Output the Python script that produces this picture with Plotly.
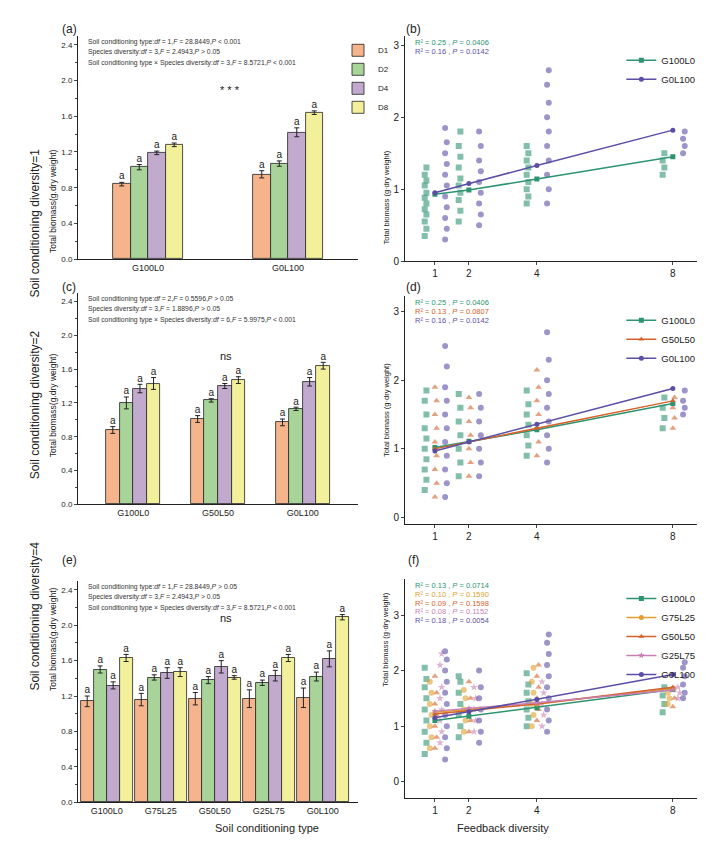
import plotly.graph_objects as go

W, H = 705, 845
FONT = "Liberation Sans"

# ---------------- bar data ----------------
div_levels = ["D1", "D2", "D4", "D8"]
bar_colors = ["#F5B48C", "#A8D49A", "#C2AACF", "#F3F09C"]

a_cats = ["G100L0", "G0L100"]
a_means = [[0.84, 0.95], [1.03, 1.07], [1.19, 1.42], [1.28, 1.64]]
a_errs = [[0.02, 0.04], [0.03, 0.03], [0.02, 0.05], [0.02, 0.02]]

c_cats = ["G100L0", "G50L50", "G0L100"]
c_means = [[0.88, 1.01, 0.97], [1.20, 1.23, 1.13], [1.37, 1.40, 1.45], [1.43, 1.47, 1.64]]
c_errs = [[0.04, 0.04, 0.04], [0.07, 0.02, 0.02], [0.05, 0.03, 0.05], [0.07, 0.04, 0.04]]

e_cats = ["G100L0", "G75L25", "G50L50", "G25L75", "G0L100"]
e_means = [[1.14, 1.16, 1.17, 1.17, 1.18], [1.50, 1.41, 1.38, 1.35, 1.42],
           [1.32, 1.46, 1.53, 1.43, 1.62], [1.63, 1.47, 1.41, 1.63, 2.09]]
e_errs = [[0.06, 0.07, 0.07, 0.10, 0.11], [0.04, 0.03, 0.04, 0.03, 0.05],
          [0.04, 0.06, 0.07, 0.06, 0.09], [0.04, 0.05, 0.02, 0.04, 0.03]]

a_stats = ["Soil conditioning type:<i>df</i> = 1,<i>F</i> = 28.8449,<i>P</i> < 0.001",
           "Species diversity:<i>df</i> = 3,<i>F</i> = 2.4943,<i>P</i> > 0.05",
           "Soil conditioning type × Species diversity:<i>df</i> = 3,<i>F</i> = 8.5721,<i>P</i> < 0.001"]
c_stats = ["Soil conditioning type:<i>df</i> = 2,<i>F</i> = 0.5596,<i>P</i> > 0.05",
           "Species diversity:<i>df</i> = 3,<i>F</i> = 1.8896,<i>P</i> > 0.05",
           "Soil conditioning type × Species diversity:<i>df</i> = 6,<i>F</i> = 5.9975,<i>P</i> < 0.001"]
e_stats = ["Soil conditioning type:<i>df</i> = 1,<i>F</i> = 28.8449,<i>P</i> > 0.05",
           "Species diversity:<i>df</i> = 3,<i>F</i> = 2.4943,<i>P</i> > 0.05",
           "Soil conditioning type × Species diversity:<i>df</i> = 3,<i>F</i> = 8.5721,<i>P</i> < 0.001"]

# ---------------- scatter data ----------------
fb_levels = [1, 2, 4, 8]
ser_colors = {"G100L0": "#2E9470", "G75L25": "#E0A030", "G50L50": "#D4622A",
              "G25L75": "#C77FB5", "G0L100": "#5B4EA6"}
ser_symbols = {"G100L0": "square", "G75L25": "circle", "G50L50": "triangle-up",
               "G25L75": "star", "G0L100": "circle"}

b_pts = {
    "G100L0": [[0.35, 0.45, 0.55, 0.65, 0.72, 0.8, 0.88, 0.95, 1.05, 1.12, 1.2, 1.3],
               [0.55, 0.7, 0.85, 0.95, 1.05, 1.15, 1.3, 1.45, 1.6, 1.8],
               [0.8, 0.9, 1.0, 1.1, 1.2, 1.3, 1.4, 1.5, 1.6],
               [1.2, 1.3, 1.4, 1.5]],
    "G0L100": [[0.3, 0.45, 0.6, 0.75, 0.9, 1.05, 1.2, 1.35, 1.5, 1.65, 1.85],
               [0.5, 0.65, 0.8, 0.95, 1.1, 1.25, 1.4, 1.6, 1.8],
               [0.8, 1.0, 1.2, 1.4, 1.6, 1.8, 2.0, 2.2, 2.45, 2.65],
               [1.5, 1.6, 1.7, 1.8]],
}
b_fit = {"G100L0": [0.93, 0.99, 1.14, 1.45], "G0L100": [0.95, 1.08, 1.33, 1.82]}
b_text = ["R² = 0.25 , <i>P</i> = 0.0406", "R² = 0.16 , <i>P</i> = 0.0142"]

d_pts = {
    "G100L0": [[0.4, 0.55, 0.7, 0.85, 1.0, 1.15, 1.3, 1.5, 1.7, 1.85],
               [0.6, 0.8, 1.0, 1.2, 1.4, 1.6, 1.8],
               [0.9, 1.05, 1.2, 1.35, 1.5, 1.65, 1.85],
               [1.3, 1.45, 1.6, 1.75]],
    "G50L50": [[0.3, 0.5, 0.7, 0.9, 1.1, 1.3, 1.5, 1.7, 1.9],
               [0.6, 0.8, 1.0, 1.2, 1.4, 1.6, 1.75],
               [0.9, 1.1, 1.3, 1.5, 1.7, 1.9, 2.15],
               [1.3, 1.45, 1.6, 1.75]],
    "G0L100": [[0.3, 0.5, 0.7, 0.9, 1.1, 1.3, 1.5, 1.7, 1.9, 2.2, 2.5],
               [0.6, 0.8, 1.0, 1.2, 1.4, 1.6, 1.8],
               [0.8, 1.0, 1.2, 1.4, 1.6, 1.8, 2.0, 2.3, 2.7],
               [1.5, 1.6, 1.7, 1.85]],
}
d_fit = {"G100L0": [1.02, 1.11, 1.28, 1.66], "G50L50": [1.0, 1.1, 1.3, 1.7],
         "G0L100": [0.97, 1.1, 1.36, 1.88]}
d_text = ["R² = 0.25 , <i>P</i> = 0.0406", "R² = 0.13 , <i>P</i> = 0.0807", "R² = 0.16 , <i>P</i> = 0.0142"]

f_pts = {
    "G100L0": [[0.5, 0.7, 0.9, 1.1, 1.3, 1.5, 1.7, 1.85, 2.05],
               [0.8, 1.0, 1.2, 1.4, 1.6, 1.8, 1.9],
               [1.0, 1.15, 1.3, 1.45, 1.6, 1.75, 1.95],
               [1.25, 1.4, 1.55, 1.7]],
    "G75L25": [[0.6, 0.8, 1.0, 1.2, 1.4, 1.6, 1.8],
               [0.9, 1.1, 1.3, 1.5, 1.65],
               [1.0, 1.2, 1.4, 1.6, 1.8, 2.05],
               [1.4, 1.5, 1.6]],
    "G50L50": [[0.6, 0.8, 1.0, 1.2, 1.4, 1.6, 1.9],
               [0.9, 1.1, 1.3, 1.5, 1.8],
               [1.1, 1.3, 1.5, 1.7, 1.9, 2.1],
               [1.35, 1.5, 1.65]],
    "G25L75": [[0.7, 0.9, 1.1, 1.3, 1.5, 1.7, 2.1, 2.3],
               [0.9, 1.1, 1.3, 1.5, 1.7],
               [1.0, 1.2, 1.4, 1.6, 1.8],
               [1.5, 1.6, 1.7]],
    "G0L100": [[0.4, 0.6, 0.8, 1.0, 1.2, 1.4, 1.6, 1.8, 2.0, 2.2, 2.35],
               [0.7, 0.9, 1.1, 1.3, 1.5, 1.7, 2.0],
               [0.9, 1.1, 1.3, 1.5, 1.7, 1.9, 2.1, 2.3, 2.5, 2.65],
               [1.5, 1.6, 1.75, 1.9, 2.05, 2.15]],
}
f_fit = {"G100L0": [1.1, 1.18, 1.33, 1.66], "G75L25": [1.25, 1.3, 1.4, 1.68],
         "G50L50": [1.22, 1.28, 1.4, 1.70], "G25L75": [1.27, 1.32, 1.42, 1.65],
         "G0L100": [1.15, 1.26, 1.48, 1.93]}
f_text = ["R² = 0.13 , <i>P</i> = 0.0714", "R² = 0.10 , <i>P</i> = 0.1590", "R² = 0.09 , <i>P</i> = 0.1598",
          "R² = 0.08 , <i>P</i> = 0.1152", "R² = 0.18 , <i>P</i> = 0.0054"]

# ---------------- figure ----------------
fig = go.Figure()
annots = []


def dom_x(p0, p1):
    return [p0 / W, p1 / W]


def dom_y(pbot, ptop):
    return [1 - pbot / H, 1 - ptop / H]


def bar_panel(n, cats, means, errs, bw, offs, xr, xd, yd, stats, sig, sigy, legend):
    xa, ya = f"x{n}", f"y{n}"
    for k, lev in enumerate(div_levels):
        xs = [i + offs[k] for i in range(len(cats))]
        fig.add_trace(go.Bar(x=xs, y=means[k], width=bw, marker_color=bar_colors[k],
                             marker_line=dict(color="#222", width=0.8), name=lev,
                             error_y=dict(type="data", array=errs[k], color="#222", thickness=1, width=2.5),
                             xaxis=xa, yaxis=ya, showlegend=legend, legend="legend"))
        fig.add_trace(go.Scatter(x=xs, y=[m + e + 0.06 for m, e in zip(means[k], errs[k])],
                                 text=["a"] * len(cats), mode="text", textfont=dict(size=10, color="#222"),
                                 xaxis=xa, yaxis=ya, showlegend=False, hoverinfo="skip"))
    sfx = "" if n == 1 else str(n)
    fig.layout[f"xaxis{sfx}"] = dict(domain=xd, range=xr, anchor=ya, tickvals=list(range(len(cats))),
                                     ticktext=cats, showline=True, linecolor="#222", ticks="",
                                     tickfont=dict(size=9), showgrid=False, zeroline=False)
    fig.layout[f"yaxis{sfx}"] = dict(domain=yd, range=[0, 2.5], anchor=xa, tickvals=[0, 0.4, 0.8, 1.2, 1.6, 2.0, 2.4],
                                     tickformat=".1f", showline=True, linecolor="#222", ticks="outside", ticklen=3,
                                     minor=dict(ticks="outside", ticklen=2, dtick=0.2), tickfont=dict(size=8),
                                     showgrid=False, zeroline=False)
    for j, s in enumerate(stats):
        annots.append(dict(x=xd[0] + 0.012, y=yd[1] - j * 0.0125, xref="paper", yref="paper", text=s,
                           showarrow=False, xanchor="left", yanchor="top", font=dict(size=6.8, color="#333")))
    annots.append(dict(x=(xd[0] + xd[1]) / 2, y=sigy, xref="paper", yref="paper", text=sig, showarrow=False,
                       font=dict(size=11, color="#222")))


a_off = [-0.1875, -0.0625, 0.0625, 0.1875]
bar_panel(1, a_cats, a_means, a_errs, 0.125, a_off, [-0.5, 1.5], dom_x(70, 350), dom_y(253, 28),
          a_stats, "* * *", 1 - 75 / H, True)
c_off = [-0.24, -0.08, 0.08, 0.24]
bar_panel(3, c_cats, c_means, c_errs, 0.16, c_off, [-0.65, 2.65], dom_x(70, 350), dom_y(500, 287),
          c_stats, "ns", 1 - 350 / H, False)
e_off = [-0.36, -0.12, 0.12, 0.36]
bar_panel(5, e_cats, e_means, e_errs, 0.24, e_off, [-0.53, 4.65], dom_x(70, 350), dom_y(800, 577),
          e_stats, "ns", 1 - 622 / H, False)


def sc_panel(n, pts, fits, texts, xd, yd, yr, legname, legy):
    xa, ya = f"x{n}", f"y{n}"
    names = list(pts.keys())
    ns = len(names)
    for si, nm in enumerate(names):
        base = -0.3 + 0.6 * si / max(ns - 1, 1) if ns > 1 else 0
        xs, ys = [], []
        for li, lev in enumerate(fb_levels):
            for vi, v in enumerate(pts[nm][li]):
                xs.append(lev + base + (vi % 2) * 0.05)
                ys.append(v)
        fig.add_trace(go.Scatter(x=xs, y=ys, mode="markers", xaxis=xa, yaxis=ya, showlegend=False,
                                 marker=dict(color=ser_colors[nm], symbol=ser_symbols[nm], size=6, opacity=0.6,
                                             line=dict(width=0))))
    for si, nm in enumerate(names):
        fig.add_trace(go.Scatter(x=fb_levels, y=fits[nm], mode="lines+markers", name=nm, xaxis=xa, yaxis=ya,
                                 line=dict(color=ser_colors[nm], width=1.5), legend=legname,
                                 marker=dict(color=ser_colors[nm], symbol=ser_symbols[nm], size=5)))
    sfx = str(n)
    fig.layout[f"xaxis{sfx}"] = dict(domain=xd, range=[0.12, 8.74], anchor=ya, tickvals=fb_levels,
                                     showline=True, linecolor="#222", ticks="outside", ticklen=3,
                                     tickfont=dict(size=10), showgrid=False, zeroline=False)
    fig.layout[f"yaxis{sfx}"] = dict(domain=yd, range=yr, anchor=xa, tickvals=[0, 1, 2, 3],
                                     showline=True, linecolor="#222", ticks="outside", ticklen=3,
                                     tickfont=dict(size=10), showgrid=False, zeroline=False)
    for j, t in enumerate(texts):
        annots.append(dict(x=xd[0] + 0.012, y=yd[1] - j * 0.0105, xref="paper", yref="paper", text=t,
                           showarrow=False, xanchor="left", yanchor="top",
                           font=dict(size=7.5, color=ser_colors[names[j]])))
    fig.layout[legname] = dict(x=0.87, y=legy, xanchor="left", yanchor="top", bgcolor="rgba(0,0,0,0)",
                               font=dict(size=9.5, color="#222"), tracegroupgap=0, itemwidth=30)
    annots.append(dict(x=378 / W, y=(yd[0] + yd[1]) / 2, xref="paper", yref="paper",
                       text="Total biomass (g·dry weight)", textangle=-90, showarrow=False,
                       font=dict(size=7.5, color="#222")))


sc_panel(2, b_pts, b_fit, b_text, dom_x(397, 690), dom_y(255, 28), [0, 3.13], "legend2", 1 - 38 / H)
sc_panel(4, d_pts, d_fit, d_text, dom_x(397, 690), dom_y(520, 290), [-0.1, 3.23], "legend3", 1 - 300 / H)
sc_panel(6, f_pts, f_fit, f_text, dom_x(397, 690), dom_y(796, 575), [-0.3, 3.65], "legend4", 1 - 580 / H)

# left-side titles
for txt, yc in [("Soil conditioning diversity=1", 140), ("Soil conditioning diversity=2", 400),
                ("Soil conditioning diversity=4", 690)]:
    annots.append(dict(x=18 / W, y=1 - yc / H, xref="paper", yref="paper", text=txt, textangle=-90,
                       showarrow=False, font=dict(size=12, color="#222")))
for yc in [140, 400, 690]:
    annots.append(dict(x=38 / W, y=1 - yc / H, xref="paper", yref="paper", text="Total biomass(g.dry weight)",
                       textangle=-90, showarrow=False, font=dict(size=8.5, color="#222")))
for lab, px, py in [("(a)", 52, 12), ("(b)", 405, 12), ("(c)", 52, 272), ("(d)", 405, 272),
                    ("(e)", 52, 565), ("(f)", 405, 565)]:
    annots.append(dict(x=px / W, y=1 - py / H, xref="paper", yref="paper", text=lab, showarrow=False,
                       font=dict(size=12, color="#222")))
annots.append(dict(x=205 / W, y=1 - 834 / H, xref="paper", yref="paper", text="Soil conditioning type",
                   showarrow=False, font=dict(size=11, color="#222")))
annots.append(dict(x=543 / W, y=1 - 834 / H, xref="paper", yref="paper", text="Feedback diversity",
                   showarrow=False, font=dict(size=11, color="#222")))

fig.update_layout(width=W, height=H, margin=dict(l=0, r=0, t=0, b=0), plot_bgcolor="white",
                  paper_bgcolor="white", font=dict(family=FONT, color="#222"), barmode="overlay",
                  annotations=annots, bargap=0,
                  legend=dict(x=330 / W, y=1 - 28 / H, xanchor="left", yanchor="top", font=dict(size=8),
                              bgcolor="rgba(0,0,0,0)", tracegroupgap=0, itemwidth=30))
fig.write_html("out.html")
